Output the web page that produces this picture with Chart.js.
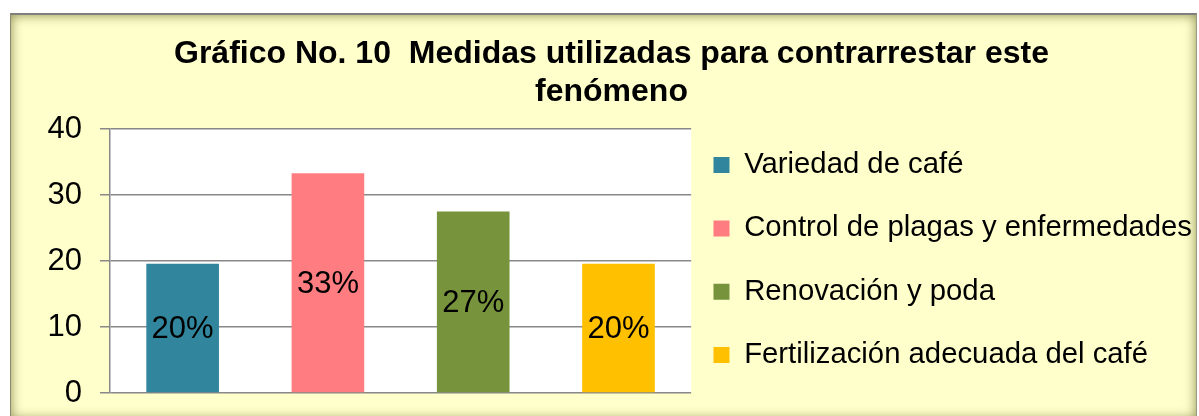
<!DOCTYPE html>
<html>
<head>
<meta charset="utf-8">
<script src="https://cdn.jsdelivr.net/npm/chart.js@4.4.1/dist/chart.umd.min.js"></script>
<style>
  html, body { margin: 0; padding: 0; background: #fff; }
  body { width: 1199px; height: 416px; overflow: hidden; position: relative; }
  #marco {
    position: absolute; left: 10px; top: 13px; width: 1187px; height: 406px;
    box-sizing: border-box;
    background: #FFFFCC;
    border-top: 2px solid #7f7f7f;
    border-left: 1px solid #8a8a70;
    border-right: 1px solid #9a9a80;
    box-shadow: inset 0 0 12px rgba(110, 110, 50, 0.8);
  }
  #grafico { position: absolute; left: 21px; top: 15px; }
</style>
</head>
<body>
<div id="marco"></div>
<canvas id="grafico" width="1181" height="415"></canvas>
<script>
// ===== DATOS =====
const titulo = ["Gráfico No. 10  Medidas utilizadas para contrarrestar este", "fenómeno"];
const categorias = ["Variedad de café", "Control de plagas y enfermedades", "Renovación y poda", "Fertilización adecuada del café"];
const valores = [19.6, 33.3, 27.5, 19.6];
const etiquetas = ["20%", "33%", "27%", "20%"];
const colores = ["#31859C", "#FF7C80", "#77933C", "#FFC000"];
const yMin = 0, yMax = 40, yPaso = 10;

const FUENTE = "'Liberation Sans', Arial, sans-serif";
Chart.defaults.font.family = FUENTE;
Chart.defaults.color = "#000";

// fondo blanco del area de trazado
const fondoArea = {
    id: "fondoArea",
    beforeDraw(chart) {
        const { ctx, chartArea: a } = chart;
        ctx.save();
        ctx.fillStyle = "#fff";
        ctx.fillRect(a.left, a.top, a.right - a.left, a.bottom - a.top);
        ctx.restore();
    }
};

// porcentajes dentro de cada barra
const etiquetasBarras = {
    id: "etiquetasBarras",
    afterDatasetsDraw(chart) {
        const { ctx } = chart;
        const meta = chart.getDatasetMeta(0);
        ctx.save();
        ctx.font = "31px " + FUENTE;
        ctx.fillStyle = "#000";
        ctx.textAlign = "center";
        ctx.textBaseline = "middle";
        meta.data.forEach((barra, i) => {
            ctx.fillText(etiquetas[i], barra.x, (barra.y + barra.base) / 2 + 2);
        });
        ctx.restore();
    }
};

const ctx = document.getElementById("grafico").getContext("2d");

new Chart(ctx, {
    type: "bar",
    data: {
        labels: categorias,
        datasets: [{
            data: valores,
            backgroundColor: colores,
            borderWidth: 0,
            barPercentage: 0.5,
            categoryPercentage: 1.0
        }]
    },
    options: {
        responsive: false,
        animation: false,
        layout: { padding: { left: 0, right: 0, top: 0, bottom: 26.35 } },
        plugins: {
            tooltip: { enabled: false },
            title: {
                display: true,
                text: titulo,
                color: "#000",
                font: { size: 32, weight: "bold", lineHeight: 1.2 },
                padding: { top: 20, bottom: 17.2 }
            },
            legend: {
                position: "right",
                align: "end",
                maxWidth: 600,
                labels: {
                    boxWidth: 16,
                    boxHeight: 16,
                    padding: 22.35,
                    color: "#000",
                    // texto como arreglo: el alto de cada fila sale del lineHeight
                    font: { size: 29.3, lineHeight: 1.3976 },
                    generateLabels: () => categorias.map((c, i) => ({
                        text: [c],
                        fillStyle: colores[i],
                        strokeStyle: colores[i],
                        lineWidth: 0,
                        hidden: false,
                        index: i
                    }))
                }
            }
        },
        scales: {
            x: {
                ticks: { display: false },
                grid: { display: false },
                border: { display: false },
                afterFit: (s) => { s.height = 10.65; }
            },
            y: {
                min: yMin,
                max: yMax,
                ticks: { stepSize: yPaso, padding: 18, font: { size: 31 }, color: "#000" },
                grid: { color: "#888", lineWidth: 1.5, tickLength: 10 },
                border: { color: "#888", width: 1.5 },
                afterFit: (s) => { s.width = 89; }
            }
        }
    },
    plugins: [fondoArea, etiquetasBarras]
});
</script>
</body>
</html>
